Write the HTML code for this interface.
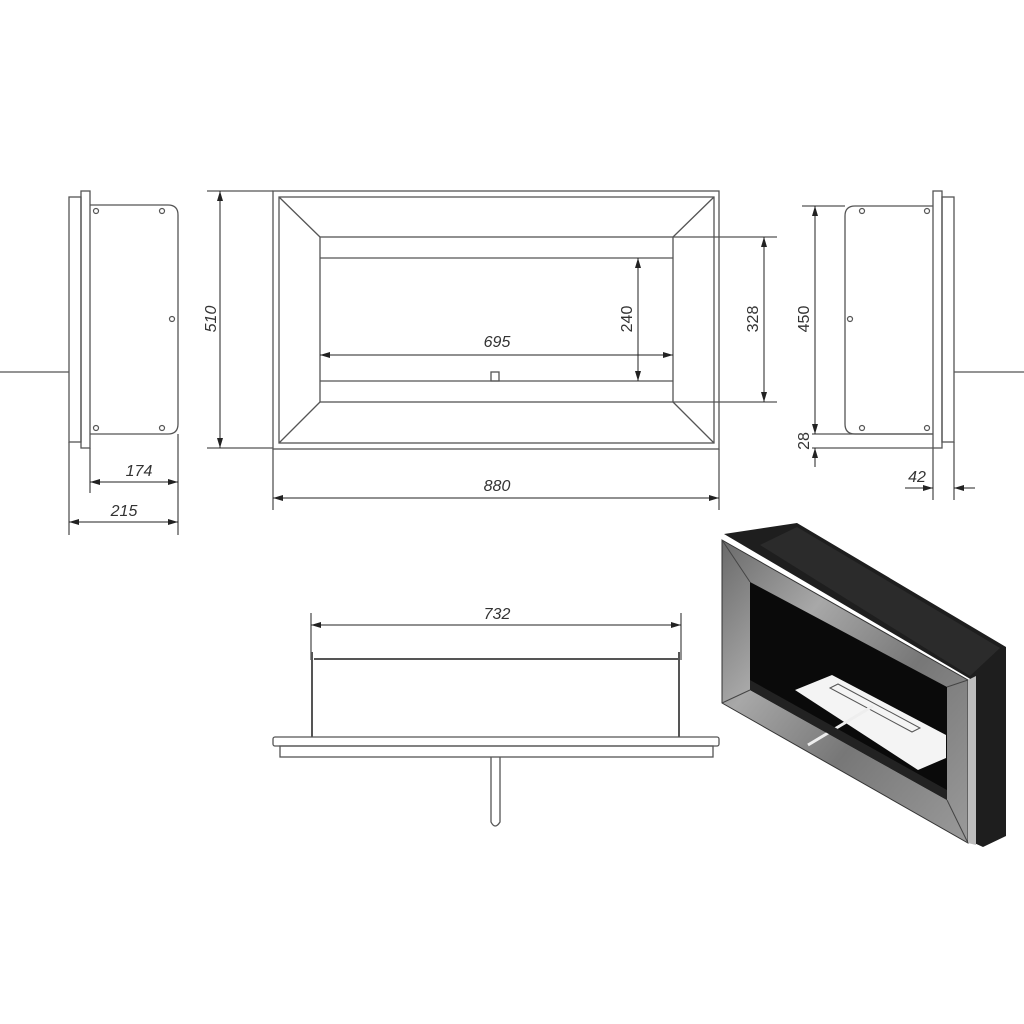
<!DOCTYPE html>
<html><head><meta charset="utf-8"><style>body{margin:0;background:#fff}svg{display:block}text{font-family:"Liberation Sans",sans-serif;font-style:italic;font-size:16px;fill:#333}</style></head><body>
<svg width="1024" height="1024" viewBox="0 0 1024 1024" xmlns="http://www.w3.org/2000/svg">
<defs>
<marker id="a" viewBox="0 0 10 6" refX="10" refY="3" markerWidth="10" markerHeight="6" orient="auto-start-reverse" markerUnits="userSpaceOnUse"><path d="M0 0L10 3L0 6z" fill="#222"/></marker>
<linearGradient id="m" x1="0" y1="0" x2="1" y2="1"><stop offset="0" stop-color="#6a6a6a"/><stop offset=".3" stop-color="#a8a8a8"/><stop offset=".6" stop-color="#777"/><stop offset="1" stop-color="#9a9a9a"/></linearGradient>
</defs>
<g fill="none" stroke="#555" stroke-width="1.3">
<!-- left side -->
<rect x="69" y="197" width="12" height="245"/>
<rect x="81" y="191" width="9" height="257"/>
<path d="M90 205H168Q178 205 178 215V424Q178 434 168 434H90"/>
<line x1="0" y1="372" x2="69" y2="372"/>
<line x1="90" y1="448" x2="90" y2="493"/><line x1="178" y1="434" x2="178" y2="535"/><line x1="69" y1="442" x2="69" y2="535"/>
<!-- front -->
<rect x="273" y="191" width="446" height="258"/>
<rect x="279" y="197" width="435" height="246"/>
<rect x="320" y="237" width="353" height="165"/>
<line x1="320" y1="258" x2="673" y2="258"/><line x1="320" y1="381" x2="673" y2="381"/>
<path d="M279 197L320 237M714 197L673 237M279 443L320 402M714 443L673 402"/>
<rect x="491" y="372" width="8" height="9"/>
<line x1="207" y1="191" x2="273" y2="191"/><line x1="207" y1="448" x2="273" y2="448"/>
<line x1="673" y1="237" x2="777" y2="237"/><line x1="673" y1="402" x2="777" y2="402"/>
<line x1="273" y1="449" x2="273" y2="510"/><line x1="719" y1="449" x2="719" y2="510"/>
<!-- right side -->
<path d="M933 206H855Q845 206 845 216V424Q845 434 855 434H933"/>
<rect x="933" y="191" width="9" height="257"/>
<rect x="942" y="197" width="12" height="245"/>
<line x1="954" y1="372" x2="1024" y2="372"/>
<line x1="802" y1="206" x2="845" y2="206"/><line x1="812" y1="434" x2="933" y2="434"/><line x1="812" y1="448" x2="933" y2="448"/>
<line x1="933" y1="448" x2="933" y2="500"/><line x1="954" y1="442" x2="954" y2="500"/>
<!-- bottom view -->
<line x1="311" y1="613" x2="311" y2="660"/><line x1="681" y1="613" x2="681" y2="660"/>
<line x1="314" y1="659" x2="679" y2="659" stroke-width="2"/>
<line x1="312" y1="652" x2="312" y2="737" stroke-width="2"/><line x1="679" y1="652" x2="679" y2="737" stroke-width="2"/>
<rect x="273" y="737" width="446" height="9" rx="2"/>
<rect x="280" y="746" width="433" height="11"/>
<path d="M491 757V822Q495 830 500 822V757"/>
</g>
<g fill="none" stroke="#555" stroke-width="1.2">
<circle cx="96" cy="211" r="2.5"/><circle cx="162" cy="211" r="2.5"/><circle cx="96" cy="428" r="2.5"/><circle cx="162" cy="428" r="2.5"/><circle cx="172" cy="319" r="2.5"/>
<circle cx="862" cy="211" r="2.5"/><circle cx="927" cy="211" r="2.5"/><circle cx="862" cy="428" r="2.5"/><circle cx="927" cy="428" r="2.5"/><circle cx="850" cy="319" r="2.5"/>
</g>
<g stroke="#222" stroke-width="1" marker-start="url(#a)" marker-end="url(#a)">
<line x1="90" y1="482" x2="178" y2="482"/>
<line x1="69" y1="522" x2="178" y2="522"/>
<line x1="220" y1="191" x2="220" y2="448"/>
<line x1="320" y1="355" x2="673" y2="355"/>
<line x1="638" y1="258" x2="638" y2="381"/>
<line x1="764" y1="237" x2="764" y2="402"/>
<line x1="273" y1="498" x2="719" y2="498"/>
<line x1="815" y1="206" x2="815" y2="434"/>
<line x1="311" y1="625" x2="681" y2="625"/>
</g>
<g stroke="#222" stroke-width="1">
<line x1="815" y1="448" x2="815" y2="467" marker-start="url(#a)"/>
<line x1="905" y1="488" x2="933" y2="488" marker-end="url(#a)"/>
<line x1="975" y1="488" x2="954" y2="488" marker-end="url(#a)"/>
</g>
<text x="139" y="476" text-anchor="middle">174</text>
<text x="124" y="516" text-anchor="middle">215</text>
<text transform="translate(216,319) rotate(-90)" text-anchor="middle">510</text>
<text x="497" y="347" text-anchor="middle">695</text>
<text transform="translate(632,319) rotate(-90)" text-anchor="middle" style="font-style:normal">240</text>
<text transform="translate(758,319) rotate(-90)" text-anchor="middle" style="font-style:normal">328</text>
<text x="497" y="491" text-anchor="middle">880</text>
<text transform="translate(809,319) rotate(-90)" text-anchor="middle" style="font-style:normal">450</text>
<text transform="translate(809,441) rotate(-90)" text-anchor="middle" style="font-style:normal">28</text>
<text x="917" y="482" text-anchor="middle">42</text>
<text x="497" y="619" text-anchor="middle">732</text>
<!-- 3D render -->
<polygon points="724,534 797,523 1006,647 1006,836 983,847 972,842 972,680" fill="#1e1e1e"/>
<polygon points="760,545 797,527 1000,648 970,676" fill="#2b2b2b"/>
<polygon points="722,540 968,680 968,843 722,703" fill="url(#m)" stroke="#333"/>
<polygon points="968,680 976,676 976,845 968,843" fill="#bdbdbd"/>
<polygon points="750,582 947,687 947,800 750,690" fill="#0a0a0a"/>
<polygon points="795,690 832,675 946,735 946,758 918,770" fill="#f4f4f4"/>
<polygon points="830,688 838,684 920,728 912,732" fill="none" stroke="#555"/>
<line x1="808" y1="745" x2="873" y2="706" stroke="#eee" stroke-width="3"/>
<polygon points="750,690 947,800 947,790 750,680" fill="#222"/>
<line x1="722" y1="540" x2="750" y2="582" stroke="#444"/><line x1="968" y1="680" x2="947" y2="687" stroke="#444"/>
<line x1="722" y1="703" x2="750" y2="690" stroke="#444"/><line x1="968" y1="843" x2="947" y2="800" stroke="#444"/>
</svg>
</body></html>
